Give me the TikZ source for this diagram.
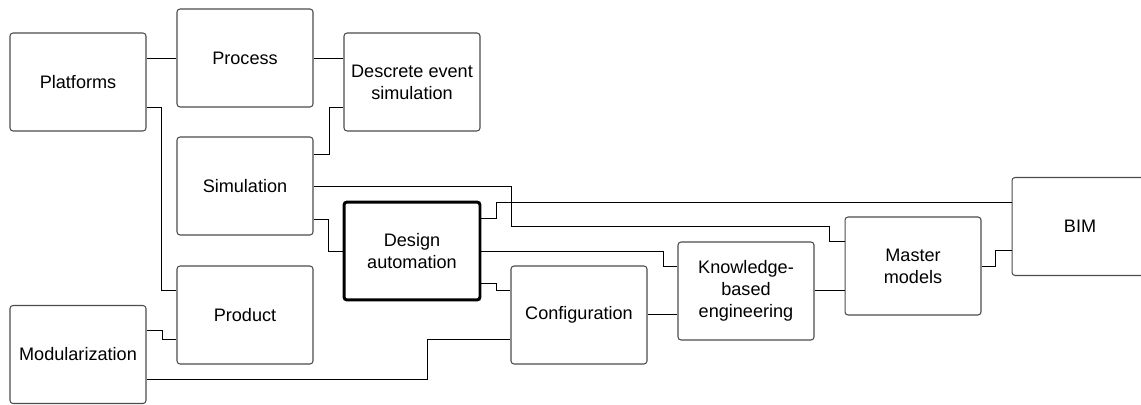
\documentclass[tikz,border=0pt]{standalone}
\usepackage{fontspec}
\setmainfont{Liberation Sans}

\begin{document}
\begin{tikzpicture}[x=0.02cm, y=-0.02cm,
        box/.style={draw=black!70, fill=white, rounded corners=0.06cm,
          line width=0.6pt, minimum width=2.72cm, minimum height=1.96cm,
          align=center, inner sep=2pt, font=\fontsize{10.3}{12.5}\selectfont},
        link/.style={draw=black, line width=0.55pt}
       ]

        \clip (0,0) rectangle (1141,405);

        \node[box] (plat) at (78,82)    {Platforms};
        \node[box] (proc) at (245,58)   {Process};
        \node[box] (des)  at (412,82)   {Descrete event\\simulation};
        \node[box] (sim)  at (245,186)  {Simulation};
        \node[box, draw=black, line width=1.7pt] (da) at (412,251)
          {Design\\automation};
        \node[box] (prod) at (245,315)  {Product};
        \node[box] (mod)  at (78,354.5) {Modularization};
        \node[box] (conf) at (579,315)  {Configuration};
        \node[box] (kbe)  at (746,291)  {Knowledge-\\based\\engineering};
        \node[box] (mast) at (913,266)  {Master\\models};
        \node[box] (bim)  at (1080,226.5) {BIM};

        \draw [link] (plat.east |- proc.west) -- (proc.west);
        \draw [link] (proc.east) -- (proc.east -| des.west);
        \draw [link] (plat.east |- 0,107) -- ++(15,0) |- (prod.west |- 0,290);
        \draw [link] (mod.east |- 0,330) -- ++(16,0) |- (prod.west |- 0,339);
        \draw [link] (mod.east |- 0,379) -| (427,339) -- (conf.west |- 0,339);
        \draw [link] (sim.east |- 0,154) -- ++(16,0) |- (des.west |- 0,107);
        \draw [link] (sim.east |- 0,219) -- ++(15,0) |- (da.west);
        \draw [link] (sim.east) -| (511,226) -| (829,241) -- (mast.west |- 0,241);
        \draw [link] (da.east |- 0,218) -- ++(15,0) |- (bim.west |- 0,202);
        \draw [link] (da.east) -| (663,266) -- (kbe.west |- 0,266);
        \draw [link] (da.east |- 0,283) -- ++(15,0) |- (conf.west |- 0,290);
        \draw [link] (conf.east |- 0,314) -- (kbe.west |- 0,314);
        \draw [link] (kbe.east |- 0,290) -- (mast.west |- 0,290);
        \draw [link] (mast.east) -- ++(14,0) |- (bim.west |- 0,250);
    \end{tikzpicture}
\end{document}
